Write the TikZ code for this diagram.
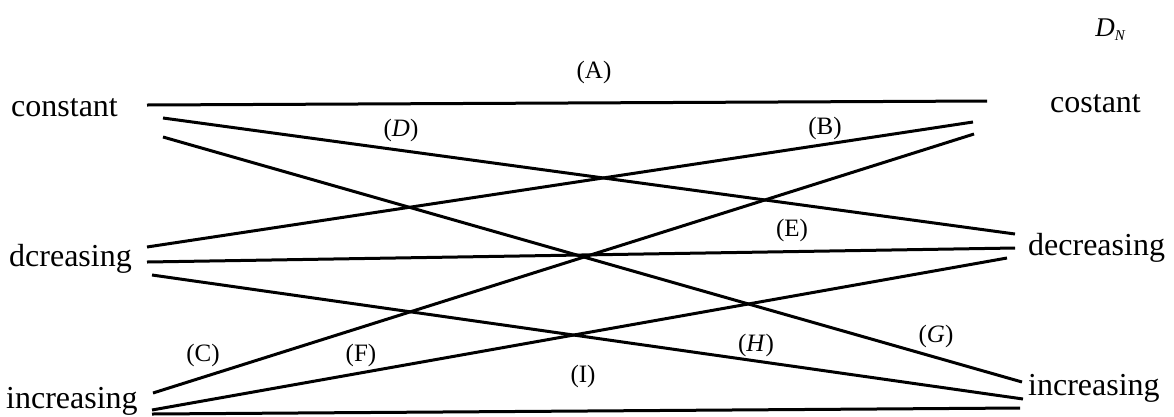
\documentclass[tikz,border=0pt]{standalone}
\usepackage{fontspec}
\setmainfont{Liberation Serif}
\usetikzlibrary{positioning}

\begin{document}
\begin{tikzpicture}[x=1pt, y=-1pt,
    state/.style={anchor=base west, inner sep=0pt, font=\fontsize{32}{36}\selectfont},
    tag/.style={inner sep=0pt, font=\fontsize{25}{28}\selectfont},
    link/.style={line width=3pt}]
  \useasboundingbox (0,0) rectangle (1174,416);
  % states on both sides
  \node[state] (constL) at (11,116) {constant};
  \node[state] (decL) at (9,266) {dcreasing};
  \node[state] (incL) at (6,408) {increasing};
  \node[state] (constR) at (1050,112) {costant};
  \node[state] (decR) at (1028,255) {decreasing};
  \node[state] (incR) at (1028,395) {increasing};
  \node[font=\fontsize{27}{30}\selectfont\itshape] (dn) at (1110,30) {D\raisebox{-0.3ex}{\fontsize{15}{16}\selectfont N}};
  % ends of the lines
  \coordinate (cA) at (147,105);  \coordinate (cA') at (987,101);
  \coordinate (cD) at (163,118);  \coordinate (dD) at (1015,234);
  \coordinate (cG) at (163,137);  \coordinate (iG) at (1022,382);
  \coordinate (dB) at (147,247);  \coordinate (cB) at (973,122);
  \coordinate (dE) at (147,262);  \coordinate (dE') at (1015,248);
  \coordinate (dH) at (152,275);  \coordinate (iH) at (1023,399);
  \coordinate (iC) at (153,393);  \coordinate (cC) at (974,134);
  \coordinate (iF) at (152,410);  \coordinate (dF) at (1007,258);
  \coordinate (iI) at (152,414);  \coordinate (iI') at (1020,408);
  \draw[link] (cA) -- (cA');
  \draw[link] (cD) -- (dD);
  \draw[link] (cG) -- (iG);
  \draw[link] (dB) -- (cB);
  \draw[link] (dE) -- (dE');
  \draw[link] (dH) -- (iH);
  \draw[link] (iC) -- (cC);
  \draw[link] (iF) -- (dF);
  \draw[link] (iI) -- (iI');
  % labels of the lines
  \node[tag] (tA) at (594,72) {(A)};
  \node[tag] (tD) at (401,130) {(\textit{D})};
  \node[tag] (tB) at (825,128) {(B)};
  \node[tag] (tE) at (792,230) {(E)};
  \node[tag] (tC) at (203,355) {(C)};
  \node[tag] (tF) at (361,355) {(F)};
  \node[tag] (tI) at (583,376) {(I)};
  \node[tag] (tH) at (756,345) {(\textit{H})};
  \node[tag] (tG) at (936,336) {(\textit{G})};
\end{tikzpicture}
\end{document}
